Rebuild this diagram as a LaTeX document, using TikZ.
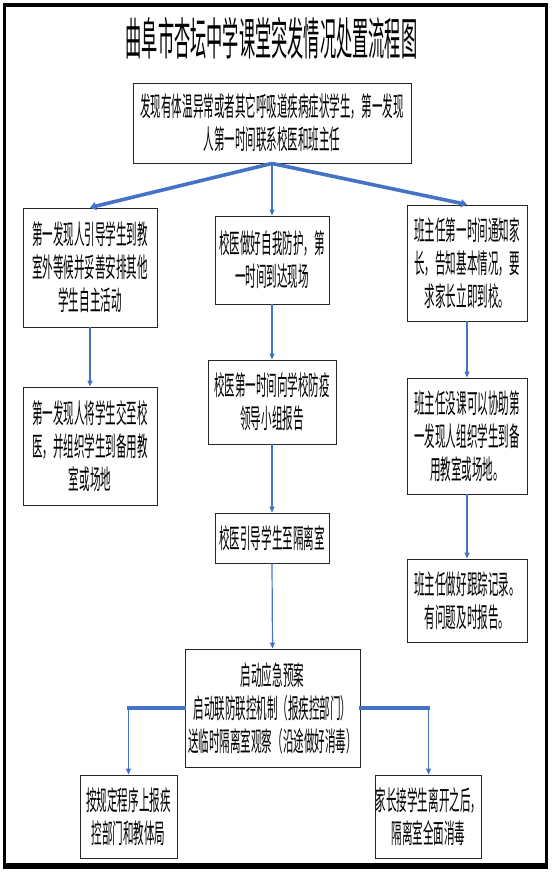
\documentclass[tikz,border=0pt]{standalone}
\usepackage{fontspec}
\newfontfamily\titlefont[FakeStretch=0.36]{Noto Sans CJK SC}
\newfontfamily\bodyfont[FakeStretch=0.39]{Noto Sans CJK SC}
\usetikzlibrary{arrows.meta}
\definecolor{conn}{HTML}{4472C4}
\begin{document}
\begin{tikzpicture}[x=1pt,y=-1pt,
  box/.style={draw=black!85, line width=0.9pt, fill=white, inner sep=0pt, align=center,
    font=\bodyfont\fontsize{27}{33}\selectfont},
  flow/.style={draw=conn, line width=1.2pt, -{Triangle[length=6pt,width=5pt]}},
  bigflow/.style={draw=conn, line width=3.6pt, -{Triangle[length=6pt,width=8pt]}},
  bar/.style={draw=conn, line width=3.3pt, line cap=rect},
  frame/.style={fill=black}]
\useasboundingbox (0,0) rectangle (552,874);
% outer frame
\fill[frame] (2.5,3) rectangle (5.5,869);
\fill[frame] (544.5,3) rectangle (547.5,869);
\fill[frame] (2.5,3) rectangle (547.5,7);
\fill[frame] (2.5,863) rectangle (547.5,869);
% title
\node[font=\titlefont\fontsize{45}{45}\selectfont, inner sep=0pt] (title) at (271.5,38) {曲阜市杏坛中学课堂突发情况处置流程图};
% boxes
\node[box, minimum width=278pt, minimum height=80pt] (top) at (272,123)
  {发现有体温异常或者其它呼吸道疾病症状学生，第一发现\\人第一时间联系校医和班主任};
\node[box, minimum width=134pt, minimum height=119pt] (L1) at (90,267.5)
  {第一发现人引导学生到教\\室外等候并妥善安排其他\\学生自主活动};
\node[box, minimum width=114pt, minimum height=88pt] (M1) at (272,260)
  {校医做好自我防护，第\\一时间到达现场};
\node[box, minimum width=120pt, minimum height=116pt] (R1) at (467,263)
  {班主任第一时间通知家\\长，告知基本情况，要\\求家长立即到校。};
\node[box, minimum width=134pt, minimum height=118pt] (L2) at (90,446)
  {第一发现人将学生交至校\\医，并组织学生到备用教\\室或场地};
\node[box, minimum width=128pt, minimum height=84pt] (M2) at (272,402)
  {校医第一时间向学校防疫\\领导小组报告};
\node[box, minimum width=120pt, minimum height=116pt] (R2) at (467,436)
  {班主任没课可以协助第\\一发现人组织学生到备\\用教室或场地。};
\node[box, minimum width=114pt, minimum height=50pt] (M3) at (272,538)
  {校医引导学生至隔离室};
\node[box, minimum width=120pt, minimum height=83pt] (R3) at (467,600.5)
  {班主任做好跟踪记录。\\有问题及时报告。};
\node[box, minimum width=175pt, minimum height=118pt] (big) at (272.5,708)
  {启动应急预案\\启动联防联控机制（报疾控部门）\\送临时隔离室观察（沿途做好消毒）};
\node[box, minimum width=97pt, minimum height=83pt] (BL) at (128.5,816.5)
  {按规定程序上报疾\\控部门和教体局};
\node[box, minimum width=105pt, minimum height=83pt] (BR) at (428.5,816.5)
  {家长接学生离开之后，\\隔离室全面消毒};
% connectors
\draw[bigflow] (top.south) -- (L1.north);
\draw[flow] (top.south) -- (M1.north);
\draw[bigflow] (top.south) -- (R1.north);
\draw[flow] (L1.south) -- (L2.north);
\draw[flow] (M1.south) -- (M2.north);
\draw[flow] (M2.south) -- (M3.north);
\draw[flow] (M3.south) -- (big.north);
\draw[flow] (R1.south) -- (R2.north);
\draw[flow] (R2.south) -- (R3.north);
\coordinate (bl) at (BL.north |- big.west);
\coordinate (br) at (BR.north |- big.east);
\draw[bar] (big.west) -- (bl);
\draw[flow] (bl) -- (BL.north);
\draw[bar] (big.east) -- (br);
\draw[flow] (br) -- (BR.north);
\end{tikzpicture}
\end{document}
